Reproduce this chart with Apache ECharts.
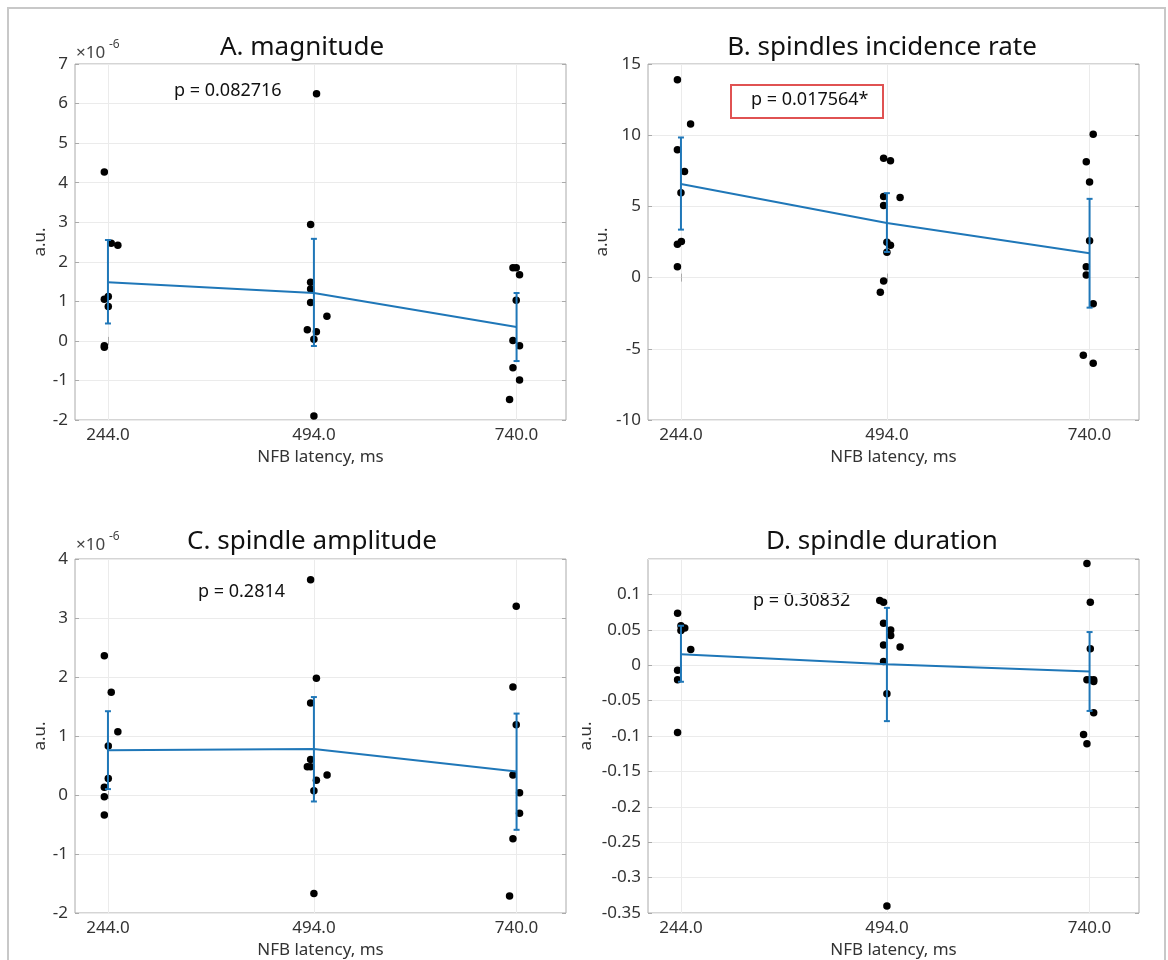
<!DOCTYPE html>
<html>
<head>
<meta charset="utf-8">
<script src="https://cdn.jsdelivr.net/npm/echarts@6/dist/echarts.min.js"></script>
<style>
  html, body { margin: 0; padding: 0; background: #fff; }
  #main { width: 1168px; height: 960px; }
</style>
</head>
<body>
<div id="main"></div>
<script>
// x positions of the three conditions and their labels
var latencies = [244, 494, 740];
var latencyLabels = ['244.0', '494.0', '740.0'];

// A. magnitude (values in units of 1e-6), points are [jittered latency, value]
var magPoints = [
  [239.6, 4.27], [248, 2.47], [256, 2.42], [239.6, 1.05], [244.4, 1.12], [244.4, 0.87], [239.6, -0.12], [239.6, -0.16],
  [497.2, 6.25], [490, 2.94], [490, 1.48], [490, 1.31], [490, 0.97], [509.8, 0.62], [486, 0.28], [497, 0.23], [494, 0.04], [494, -1.9],
  [735.6, 1.85], [739.6, 1.85], [743.6, 1.67], [739.6, 1.03], [735.6, 0.01], [743.6, -0.12], [735.6, -0.68], [743.6, -0.99], [731.5, -1.48]
];
var magMean = [1.48, 1.21, 0.35];
var magLow = [0.44, -0.13, -0.51];
var magHigh = [2.55, 2.58, 1.21];

// B. spindles incidence rate
var ratePoints = [
  [239.7, 13.89], [255.7, 10.78], [239.7, 8.97], [248.3, 7.45], [244, 5.95], [244.5, 2.53], [239.7, 2.34], [239.7, 0.77],
  [490, 8.39], [498.3, 8.2], [490, 5.69], [510, 5.62], [490, 5.06], [494, 2.48], [498.3, 2.27], [494, 1.78], [490, -0.23], [486, -1.03],
  [744.4, 10.07], [736, 8.13], [740, 6.72], [740, 2.58], [736, 0.77], [736, 0.19], [744.4, -1.83], [732.4, -5.46], [744.4, -6.02]
];
var rateMean = [6.58, 3.84, 1.71];
var rateLow = [3.37, 1.8, -2.11];
var rateHigh = [9.84, 5.93, 5.53];

// C. spindle amplitude (units of 1e-6)
var ampPoints = [
  [239.6, 2.36], [248, 1.74], [256, 1.07], [244.4, 0.83], [244.4, 0.28], [239.6, 0.13], [239.6, -0.03], [239.6, -0.34],
  [490, 3.65], [497, 1.98], [490, 1.56], [490, 0.60], [486, 0.48], [490, 0.48], [510, 0.34], [497, 0.25], [494, 0.07], [494, -1.67],
  [739.6, 3.2], [735.6, 1.83], [739.6, 1.19], [735.6, 0.34], [743.6, 0.04], [743.6, -0.31], [735.6, -0.74], [731.5, -1.71]
];
var ampMean = [0.76, 0.78, 0.40];
var ampLow = [0.10, -0.11, -0.59];
var ampHigh = [1.42, 1.66, 1.38];

// D. spindle duration
var durPoints = [
  [239.9, 0.0735], [244, 0.0557], [248.6, 0.0524], [244, 0.049], [255.9, 0.022], [239.9, -0.007], [239.9, -0.0206], [239.9, -0.095],
  [485.3, 0.0913], [489.9, 0.089], [489.9, 0.0594], [498.6, 0.0496], [498.6, 0.042], [510, 0.0257], [489.9, 0.0285], [489.9, 0.0051], [494, -0.0402], [494, -0.340],
  [736.8, 0.1437], [740.9, 0.0889], [740.9, 0.0234], [736.8, -0.0206], [740.9, -0.0206], [745, -0.0206], [745, -0.023], [745, -0.067], [732.7, -0.0978], [736.8, -0.111]
];
var durMean = [0.0154, 0.0014, -0.0089];
var durLow = [-0.0234, -0.079, -0.0646];
var durHigh = [0.0557, 0.081, 0.0468];

var titles = ['A. magnitude', 'B. spindles incidence rate', 'C. spindle amplitude', 'D. spindle duration'];
var pTexts = ['p = 0.082716', 'p = 0.017564*', 'p = 0.2814', 'p = 0.30832'];

var blue = '#1f77b8';
var font = 'Noto Sans';
var tickColor = '#333';

var panels = [
  { pts: magPoints, mean: magMean, lo: magLow, hi: magHigh, min: -2, max: 7, step: 1, left: 75, top: 64, nameGap: 25, titleX: 302, titleY: 48, pX: 174, pY: 94 },
  { pts: ratePoints, mean: rateMean, lo: rateLow, hi: rateHigh, min: -10, max: 15, step: 5, left: 648, top: 64, nameGap: 37, titleX: 882, titleY: 48, pX: 751, pY: 103 },
  { pts: ampPoints, mean: ampMean, lo: ampLow, hi: ampHigh, min: -2, max: 4, step: 1, left: 75, top: 559, nameGap: 25, titleX: 312, titleY: 542, pX: 198, pY: 595 },
  { pts: durPoints, mean: durMean, lo: durLow, hi: durHigh, min: -0.35, max: 0.15, step: 0.05, left: 648, top: 559, nameGap: 53, titleX: 882, titleY: 542, pX: 753, pY: 604, hideMax: true }
];

function errRender(params, api) {
  var x = api.value(0);
  var a = api.coord([x, api.value(1)]);
  var b = api.coord([x, api.value(2)]);
  var w = 3;
  var st = { stroke: blue, lineWidth: 2 };
  return {
    type: 'group',
    children: [
      { type: 'line', shape: { x1: a[0], y1: a[1], x2: b[0], y2: b[1] }, style: st },
      { type: 'line', shape: { x1: a[0] - w, y1: a[1], x2: a[0] + w, y2: a[1] }, style: st },
      { type: 'line', shape: { x1: b[0] - w, y1: b[1], x2: b[0] + w, y2: b[1] }, style: st }
    ]
  };
}

var grid = [], xAxis = [], yAxis = [], series = [], title = [], graphic = [];

panels.forEach(function (p, i) {
  grid.push({ left: p.left, top: p.top, width: 491, height: 356, show: true, borderColor: '#aaaaaa', borderWidth: 1, backgroundColor: '#fff' });
  title.push({ text: titles[i], left: p.titleX, top: p.titleY, padding: 0, textAlign: 'center', textVerticalAlign: 'middle',
    textStyle: { fontFamily: font, fontSize: 26, fontWeight: 'normal', color: '#111' } });

  xAxis.push({
    type: 'value', gridIndex: i, min: 204, max: 800, position: 'bottom',
    name: 'NFB latency, ms', nameLocation: 'middle', nameGap: 29,
    nameTextStyle: { fontFamily: font, fontSize: 17, color: tickColor },
    axisLine: { show: false },
    axisTick: { show: true, inside: true, length: 4, customValues: latencies, lineStyle: { color: '#aaaaaa' } },
    axisLabel: { customValues: latencies, margin: 7, fontFamily: font, fontSize: 17, color: tickColor,
      formatter: function (v) { return latencyLabels[latencies.indexOf(v)]; } },
    splitLine: { show: true, lineStyle: { color: '#ebebeb' } }
  });
  xAxis.push({
    type: 'value', gridIndex: i, min: 204, max: 800, position: 'top',
    axisLine: { show: false },
    axisTick: { show: true, inside: true, length: 4, customValues: latencies, lineStyle: { color: '#aaaaaa' } },
    axisLabel: { show: false }, splitLine: { show: false }
  });
  yAxis.push({
    type: 'value', gridIndex: i, min: p.min, max: p.max, interval: p.step, position: 'left',
    name: 'a.u.', nameLocation: 'middle', nameGap: p.nameGap,
    nameTextStyle: { fontFamily: font, fontSize: 17, color: tickColor },
    axisLine: { show: false },
    axisTick: { show: true, inside: true, length: 4, lineStyle: { color: '#aaaaaa' } },
    axisLabel: { margin: 7, fontFamily: font, fontSize: 17, color: tickColor, showMaxLabel: !p.hideMax,
      formatter: function (v) { return String(Math.round(v * 1000) / 1000); } },
    splitLine: { show: true, lineStyle: { color: '#ebebeb' } }
  });
  yAxis.push({
    type: 'value', gridIndex: i, min: p.min, max: p.max, interval: p.step, position: 'right',
    axisLine: { show: false },
    axisTick: { show: true, inside: true, length: 4, lineStyle: { color: '#aaaaaa' } },
    axisLabel: { show: false }, splitLine: { show: false }
  });

  series.push({
    type: 'scatter', xAxisIndex: 2 * i, yAxisIndex: 2 * i, data: p.pts,
    symbolSize: 7.5, itemStyle: { color: '#000', opacity: 1 }, z: 2, silent: true
  });
  series.push({
    type: 'line', xAxisIndex: 2 * i, yAxisIndex: 2 * i,
    data: latencies.map(function (x, k) { return [x, p.mean[k]]; }),
    showSymbol: false, lineStyle: { color: blue, width: 2 }, z: 3, silent: true
  });
  series.push({
    type: 'custom', xAxisIndex: 2 * i, yAxisIndex: 2 * i, renderItem: errRender,
    data: latencies.map(function (x, k) { return [x, p.lo[k], p.hi[k]]; }), z: 4, silent: true
  });

  graphic.push({ type: 'text', left: p.pX, top: p.pY - 12, style: { text: pTexts[i], fontFamily: font, fontSize: 18, fill: '#111' } });
});

// significance box around B's p-value
graphic.push({ type: 'rect', shape: { x: 731, y: 85, width: 152, height: 33 }, style: { fill: 'none', stroke: '#e05252', lineWidth: 2 } });
// exponent markers for A and C
[56, 548].forEach(function (y) {
  graphic.push({ type: 'text', left: 76, top: y - 11, style: { text: '\u00d710', fontFamily: font, fontSize: 17, fill: '#444' } });
  graphic.push({ type: 'text', left: 109, top: y - 17, style: { text: '-6', fontFamily: font, fontSize: 12, fill: '#444' } });
});
// figure frame
graphic.push({ type: 'rect', shape: { x: 8, y: 8, width: 1157, height: 1000 }, style: { fill: 'none', stroke: '#c8c8c8', lineWidth: 2 }, z: -1 });

echarts.init(document.getElementById('main')).setOption({
  animation: false,
  backgroundColor: '#fff',
  title: title,
  grid: grid,
  xAxis: xAxis,
  yAxis: yAxis,
  series: series,
  graphic: graphic
});
</script>
</body>
</html>
